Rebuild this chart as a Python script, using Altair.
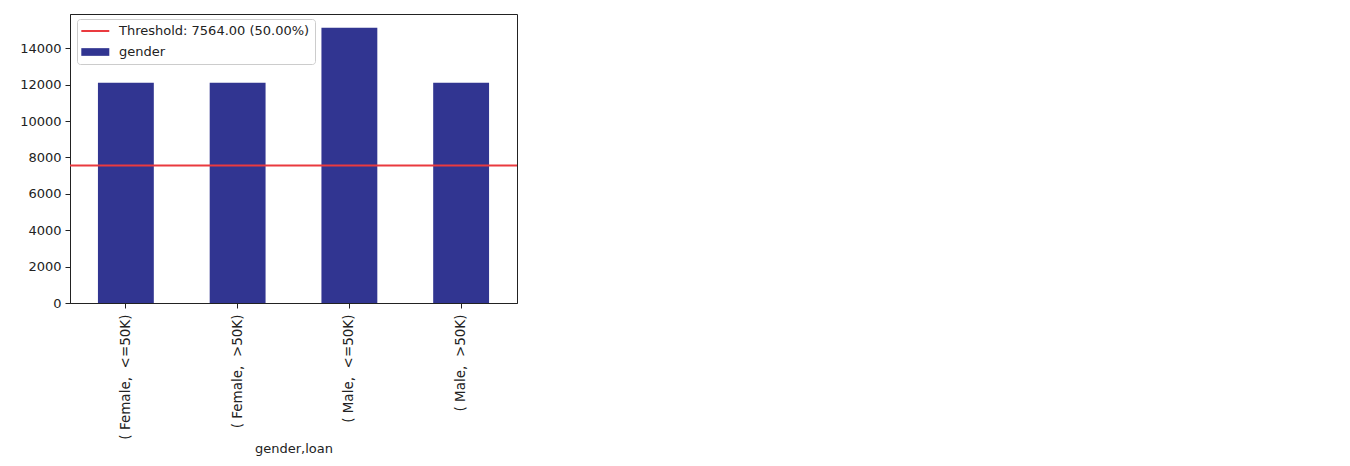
import altair as alt
import pandas as pd

categories = ["( Female,\u00a0 <=50K)", "( Female,\u00a0 >50K)", "( Male,\u00a0 <=50K)", "( Male,\u00a0 >50K)"]
counts = [12100, 12100, 15128, 12100]
threshold = [7564]
legend_labels = ["Threshold: 7564.00 (50.00%)", "gender"]
legend_colors = ["#ea3a3f", "#313591"]
legend_shapes = [
    "M-1.1,-0.14L2.9,-0.14L2.9,0.14L-1.1,0.14Z",
    "M-1.1,-0.55L2.9,-0.55L2.9,0.55L-1.1,0.55Z",
]
y_ticks = [0, 2000, 4000, 6000, 8000, 10000, 12000, 14000]

bars_df = pd.DataFrame({"category": categories, "count": counts})
thr_df = pd.DataFrame({"threshold": threshold})
leg_df = pd.DataFrame({"series": legend_labels})

FONT = "DejaVu Sans"

bars = alt.Chart(bars_df).mark_bar(color="#313591").encode(
    x=alt.X(
        "category:N",
        sort=categories,
        scale=alt.Scale(paddingInner=0.5, paddingOuter=0.25),
        axis=alt.Axis(
            title="gender,loan",
            labelAngle=270,
            labelAlign="right",
            labelBaseline="middle",
            labelPadding=6,
            labelFontSize=13.5,
            tickSize=5,
            titlePadding=3,
        ),
    ),
    y=alt.Y(
        "count:Q",
        scale=alt.Scale(domain=[0, 15884], nice=False, zero=True),
        axis=alt.Axis(title=None, values=y_ticks, format="d", grid=False, tickSize=5, labelPadding=4),
    ),
)

rule = alt.Chart(thr_df).mark_rule(color="#ea3a3f", strokeWidth=2).encode(
    y=alt.Y("threshold:Q")
)

legend_pts = alt.Chart(leg_df).mark_point(filled=True, opacity=0).encode(
    color=alt.Color(
        "series:N",
        scale=alt.Scale(domain=legend_labels, range=legend_colors),
        legend=alt.Legend(
            title=None,
            orient="none",
            legendX=7,
            legendY=5,
            direction="vertical",
            fillColor="white",
            strokeColor="#cccccc",
            cornerRadius=3,
            padding=5,
            symbolSize=196,
            symbolOpacity=1,
            symbolStrokeWidth=0,
            labelOffset=23,
            rowPadding=7,
            labelFont=FONT,
            labelFontSize=13,
            labelColor="#222222",
            labelLimit=400,
        ),
    ),
    shape=alt.Shape(
        "series:N",
        scale=alt.Scale(domain=legend_labels, range=legend_shapes),
        legend=None,
    ),
)

chart = alt.layer(bars, rule, legend_pts).properties(
    width=447,
    height=289,
    autosize=alt.AutoSizeParams(type="none"),
    padding={"left": 62, "top": 6, "right": 20, "bottom": 160},
).configure_view(
    stroke="#222222", strokeWidth=1
).configure_axis(
    domainColor="#222222",
    tickColor="#222222",
    labelColor="#222222",
    titleColor="#222222",
    labelFont=FONT,
    titleFont=FONT,
    labelFontSize=13,
    titleFontSize=13,
    titleFontWeight="normal",
)

chart.save("out.html", embed_options={"renderer": "svg", "actions": False})
